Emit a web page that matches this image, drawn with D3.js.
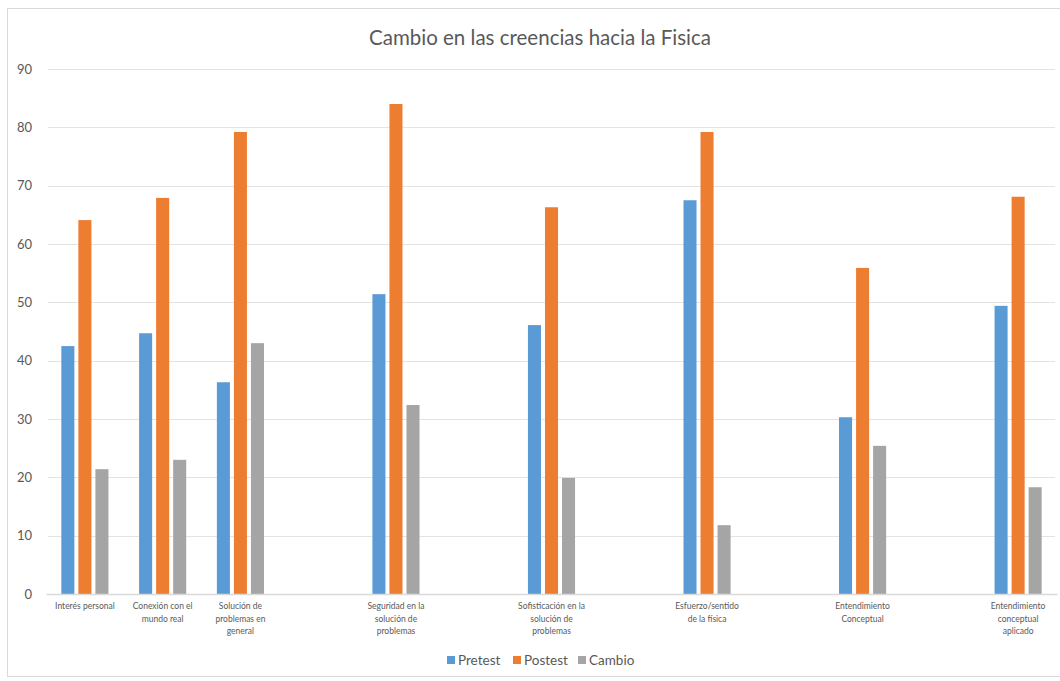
<!DOCTYPE html>
<html>
<head>
<meta charset="utf-8">
<script src="https://cdn.jsdelivr.net/npm/d3@7"></script>
<style>
  html, body { margin: 0; padding: 0; background: #fff; }
  svg { display: block; font-family: Lato, "Open Sans", sans-serif; }
</style>
</head>
<body>
<svg id="chart" width="1060" height="681"></svg>
<script>
// Categories (empty strings are the blank category slots of the original chart)
const categories = [
  "Interés personal",
  "Conexión con el\nmundo real",
  "Solución de\nproblemas en\ngeneral",
  "",
  "Seguridad en la\nsolución de\nproblemas",
  "",
  "Sofisticación en la\nsolución de\nproblemas",
  "",
  "Esfuerzo/sentido\nde la física",
  "",
  "Entendimiento\nConceptual",
  "",
  "Entendimiento\nconceptual\naplicado"
];
const seriesNames = ["Pretest", "Postest", "Cambio"];
const pretest = [42.5, 44.7, 36.3, null, 51.4, null, 46.1, null, 67.5, null, 30.3, null, 49.4];
const postest = [64.1, 67.9, 79.2, null, 84.0, null, 66.3, null, 79.2, null, 55.9, null, 68.1];
const cambio  = [21.4, 23.0, 43.0, null, 32.4, null, 19.9, null, 11.8, null, 25.4, null, 18.3];
const yTicks = [0, 10, 20, 30, 40, 50, 60, 70, 80, 90];
const title = "Cambio en las creencias hacia la Fisica";

const colors = ["#5B9BD5", "#ED7D31", "#A5A5A5"];
const seriesValues = [pretest, postest, cambio];

const svg = d3.select("#chart");
const W = 1060, H = 681;
const margin = { left: 46, right: 3, top: 69, bottom: 87 };

// outer chart border
svg.append("rect")
  .attr("x", 7.5).attr("y", 8.5)
  .attr("width", W).attr("height", 668)
  .attr("fill", "#fff").attr("stroke", "#d9d9d9").attr("stroke-width", 1);

const x = d3.scaleBand()
  .domain(d3.range(categories.length))
  .range([margin.left, W - margin.right])
  .paddingInner(0).paddingOuter(0);

const xs = d3.scaleBand()
  .domain(seriesNames)
  .range([0, x.bandwidth()])
  .paddingInner(0.235)
  .paddingOuter(0.9);

const y = d3.scaleLinear()
  .domain([0, 90])
  .range([H - margin.bottom, margin.top]);

// gridlines
svg.append("g")
  .selectAll("line")
  .data(yTicks.filter(t => t > 0))
  .join("line")
  .attr("x1", margin.left + 2).attr("x2", W - margin.right - 2)
  .attr("y1", d => Math.round(y(d)) + 0.5).attr("y2", d => Math.round(y(d)) + 0.5)
  .attr("stroke", "#e3e3e3").attr("stroke-width", 1);

// y axis labels
const yAxis = d3.axisLeft(y).tickValues(yTicks).tickSize(0).tickPadding(0);
const gy = svg.append("g").attr("transform", `translate(${margin.left - 14},0)`).call(yAxis);
gy.select(".domain").remove();
gy.selectAll("text")
  .attr("fill", "#595959").style("font-size", "13px")
  .style("font-family", "Lato, 'Open Sans', sans-serif");

// bars
const groups = svg.append("g").selectAll("g")
  .data(seriesNames)
  .join("g")
  .attr("fill", (d, i) => colors[i]);

groups.selectAll("rect")
  .data((s, si) => seriesValues[si].map((v, ci) => ({ s, v, ci })).filter(d => d.v != null))
  .join("rect")
  .attr("x", d => x(d.ci) + xs(d.s))
  .attr("width", xs.bandwidth())
  .attr("y", d => y(d.v))
  .attr("height", d => y(0) - y(d.v));

// x axis baseline
const xAxis = d3.axisBottom(x).tickSize(0).tickFormat(() => "");
const gx = svg.append("g").attr("transform", `translate(0,${y(0)})`).call(xAxis);
gx.select(".domain").attr("stroke", "#d9d9d9").attr("stroke-width", 1.5);

// x labels (multi-line)
const xl = svg.append("g").selectAll("text")
  .data(categories.map((c, i) => ({ c, i })).filter(d => d.c !== ""))
  .join("text")
  .attr("text-anchor", "middle")
  .attr("fill", "#595959")
  .style("font-size", "8.5px")
  .attr("transform", d => `translate(${x(d.i) + x.bandwidth() / 2},${y(0) + 15})`);
xl.selectAll("tspan")
  .data(d => d.c.split("\n"))
  .join("tspan")
  .attr("x", 0)
  .attr("dy", (d, i) => i === 0 ? 0 : 12.5)
  .text(d => d);

// title
svg.append("text")
  .attr("x", 540).attr("y", 45)
  .attr("text-anchor", "middle")
  .attr("fill", "#595959")
  .style("font-size", "20.5px")
  .text(title);

// legend
const legendX = [447, 513, 578];
const lg = svg.append("g").selectAll("g")
  .data(seriesNames)
  .join("g")
  .attr("transform", (d, i) => `translate(${legendX[i]},656)`);
lg.append("rect").attr("width", 8).attr("height", 8).attr("fill", (d, i) => colors[i]);
lg.append("text")
  .attr("x", 11).attr("y", 8.5)
  .attr("fill", "#595959")
  .style("font-size", "13.5px")
  .text(d => d);
</script>
</body>
</html>
